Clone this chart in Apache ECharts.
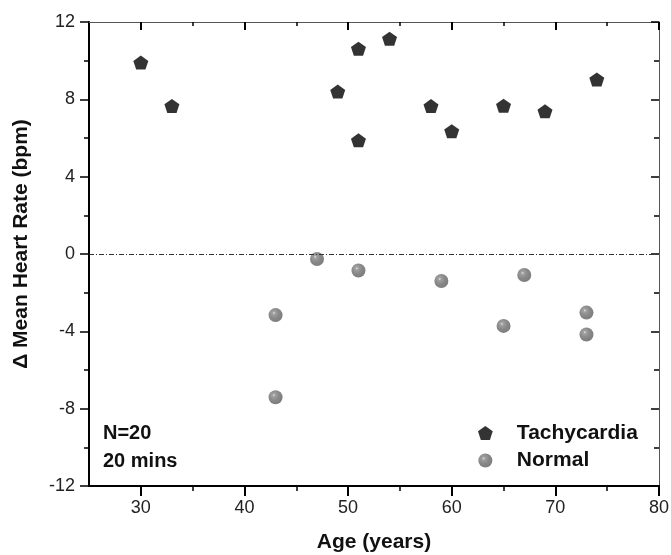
<!DOCTYPE html>
<html>
<head>
<meta charset="utf-8">
<script src="https://cdn.jsdelivr.net/npm/echarts@6/dist/echarts.min.js"></script>
<style>
html,body{margin:0;padding:0;background:#fff;}
#chart{width:671px;height:555px;}
</style>
</head>
<body>
<div id="chart"></div>
<script>
// Data
const tachyAge = [30, 33, 49, 51, 51, 54, 58, 60, 65, 69, 74];
const tachyDelta = [9.9, 7.66, 8.4, 10.62, 5.88, 11.14, 7.65, 6.35, 7.67, 7.38, 9.03];
const normalAge = [43, 43, 47, 51, 59, 65, 67, 73, 73];
const normalDelta = [-3.16, -7.41, -0.26, -0.85, -1.4, -3.72, -1.09, -3.03, -4.16];
const xMajorTicks = [30, 40, 50, 60, 70, 80];
const xMinorTicks = [35, 45, 55, 65, 75];
const seriesNames = ['Tachycardia', 'Normal'];
const noteLines = ['N=20', '20 mins'];

const FONT = '"Liberation Sans", Arial, sans-serif';
const pentagon = 'path://M0,-1 L0.951,-0.309 L0.588,0.809 L-0.588,0.809 L-0.951,-0.309 Z';

const chart = echarts.init(document.getElementById('chart'), null, {renderer: 'canvas'});

const xCommon = {type: 'value', min: 25, max: 80, splitLine: {show: false}};
const yCommon = {type: 'value', min: -12, max: 12, interval: 4, splitLine: {show: false}};

chart.setOption({
  animation: false,
  backgroundColor: '#fff',
  grid: {left: 89, right: 12, top: 22, bottom: 69, containLabel: false, outerBoundsMode: 'none'},
  xAxis: [
    Object.assign({}, xCommon, {
      position: 'bottom',
      name: 'Age (years)', nameLocation: 'middle', nameGap: 46,
      nameTextStyle: {fontFamily: FONT, fontWeight: 'bold', fontSize: 21, color: '#111'},
      axisLine: {show: true, onZero: false, lineStyle: {color: '#000', width: 2}},
      axisTick: {show: true, inside: false, length: 10, customValues: xMajorTicks, lineStyle: {color: '#000', width: 2}},
      axisLabel: {show: true, customValues: xMajorTicks, margin: 13, fontFamily: FONT, fontSize: 18, color: '#222'}
    }),
    Object.assign({}, xCommon, {
      position: 'bottom',
      axisLine: {show: false, onZero: false},
      axisTick: {show: true, inside: false, length: 5, customValues: xMinorTicks, lineStyle: {color: '#000', width: 1.5}},
      axisLabel: {show: false}
    }),
    Object.assign({}, xCommon, {
      position: 'top',
      axisLine: {show: true, onZero: false, lineStyle: {color: '#555', width: 1}},
      axisTick: {show: true, inside: true, length: 8, customValues: xMajorTicks, lineStyle: {color: '#000', width: 2}},
      axisLabel: {show: false}
    }),
    Object.assign({}, xCommon, {
      position: 'top',
      axisLine: {show: false, onZero: false},
      axisTick: {show: true, inside: true, length: 4, customValues: xMinorTicks, lineStyle: {color: '#000', width: 1.5}},
      axisLabel: {show: false}
    })
  ],
  yAxis: [
    Object.assign({}, yCommon, {
      position: 'left',
      name: 'Δ Mean Heart Rate (bpm)', nameLocation: 'middle', nameGap: 57,
      nameTextStyle: {fontFamily: FONT, fontWeight: 'bold', fontSize: 21, color: '#111', padding: [0, 0, 0, 20]},
      axisLine: {show: true, onZero: false, lineStyle: {color: '#000', width: 2}},
      axisTick: {show: true, inside: false, length: 9, lineStyle: {color: '#000', width: 1.5}},
      minorTick: {show: true, splitNumber: 2, length: 5, lineStyle: {color: '#000', width: 1.5}},
      axisLabel: {show: true, margin: 14, fontFamily: FONT, fontSize: 18, color: '#222'}
    }),
    Object.assign({}, yCommon, {
      position: 'right',
      axisLine: {show: true, onZero: false, lineStyle: {color: '#555', width: 1}},
      axisTick: {show: true, inside: true, length: 8, lineStyle: {color: '#000', width: 1.5}},
      minorTick: {show: true, splitNumber: 2, length: 5, lineStyle: {color: '#000', width: 1.5}},
      axisLabel: {show: false}
    })
  ],
  legend: {
    orient: 'vertical', left: 473, top: 417,
    itemWidth: 15, itemHeight: 14, itemGap: 5.5,
    data: seriesNames,
    textStyle: {fontFamily: FONT, fontWeight: 'bold', fontSize: 21, color: '#111', lineHeight: 22, padding: [0, 0, 0, 19]}
  },
  graphic: [
    {type: 'text', left: 103, top: 423, style: {text: noteLines[0], font: 'bold 20px ' + FONT, fill: '#111'}},
    {type: 'text', left: 103, top: 451, style: {text: noteLines[1], font: 'bold 20px ' + FONT, fill: '#111'}}
  ],
  series: [
    {
      name: seriesNames[0], type: 'scatter', xAxisIndex: 0, yAxisIndex: 0,
      symbol: pentagon, symbolSize: [15, 14],
      itemStyle: {color: '#000'},
      data: tachyAge.map((a, i) => [a, tachyDelta[i]]),
      markLine: {
        silent: true, symbol: 'none', label: {show: false},
        lineStyle: {color: '#333', width: 1, type: [5, 2, 1, 2]},
        data: [{yAxis: 0}]
      },
      z: 3
    },
    {
      name: seriesNames[1], type: 'scatter', xAxisIndex: 0, yAxisIndex: 0,
      symbol: 'circle', symbolSize: 14,
      itemStyle: {
        color: {type: 'radial', x: 0.38, y: 0.35, r: 0.65, colorStops: [
          {offset: 0, color: '#e8e8e8'}, {offset: 0.15, color: '#8a8a8a'},
          {offset: 0.55, color: '#6c6c6c'}, {offset: 1, color: '#5c5c5c'}
        ]}
      },
      data: normalAge.map((a, i) => [a, normalDelta[i]]),
      z: 3
    }
  ]
});
</script>
</body>
</html>
